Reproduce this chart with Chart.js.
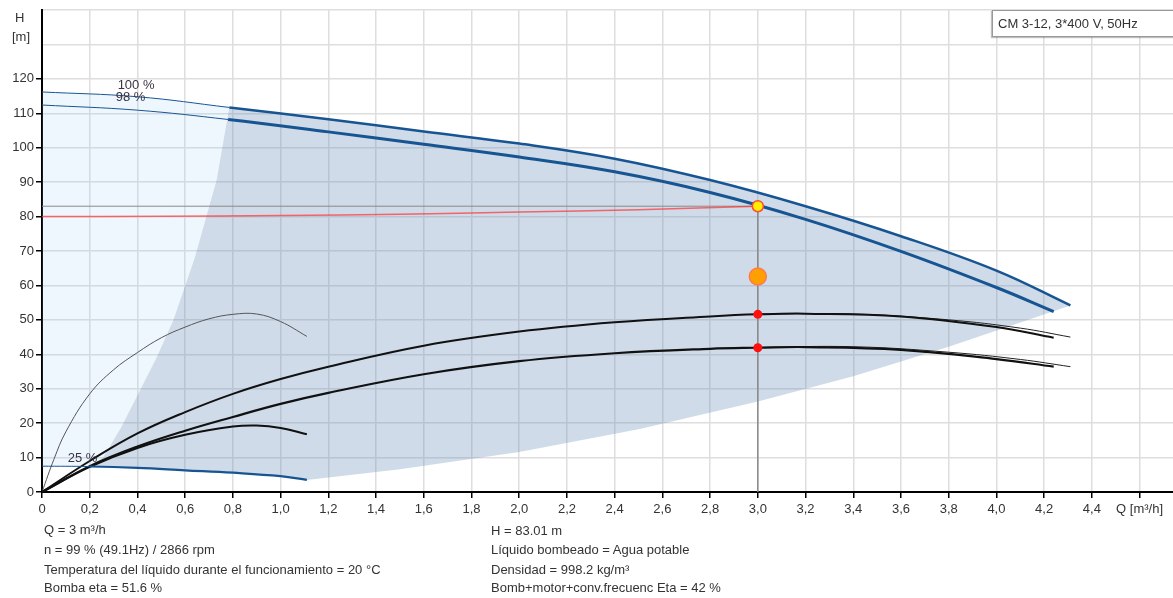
<!DOCTYPE html>
<html>
<head>
<meta charset="utf-8">
<title>CM 3-12 curva</title>
<script src="https://cdn.jsdelivr.net/npm/chart.js@4.4.1/dist/chart.umd.min.js"></script>
<style>
body { margin: 0; background: #fff; font-family: "Liberation Sans", Arial, sans-serif; color: #333; }
#wrap { position: relative; width: 1173px; height: 598px; overflow: hidden; }
#chart { position: absolute; left: 0; top: 0; }
.t { position: absolute; font-size: 13px; line-height: 16px; white-space: nowrap; }
#legend { position: absolute; left: 992px; top: 10px; width: 190px; height: 25px; line-height: 25px;
          border: 1px solid #999; background: #fff; padding-left: 5px; font-size: 13px;
          box-shadow: -1px 1px 1px rgba(0,0,0,0.25); }
</style>
</head>
<body>
<div id="wrap">
  <canvas id="chart" width="1173" height="598"></canvas>
  <div class="t" style="left:15px;top:10px;">H</div>
  <div class="t" style="left:12px;top:29px;">[m]</div>
  <div id="legend">CM 3-12, 3*400 V, 50Hz</div>
  <div class="t" style="left:44px;top:522px;">Q = 3 m³/h</div>
  <div class="t" style="left:44px;top:542px;">n = 99 % (49.1Hz) / 2866 rpm</div>
  <div class="t" style="left:44px;top:562px;">Temperatura del líquido durante el funcionamiento = 20 °C</div>
  <div class="t" style="left:44px;top:580px;">Bomba eta = 51.6 %</div>
  <div class="t" style="left:491px;top:523px;">H = 83.01 m</div>
  <div class="t" style="left:491px;top:542px;">Líquido bombeado = Agua potable</div>
  <div class="t" style="left:491px;top:562px;">Densidad = 998.2 kg/m³</div>
  <div class="t" style="left:491px;top:580px;">Bomb+motor+conv.frecuenc Eta = 42 %</div>
</div>
<script>
// ---- datos ----
const xTickLabels = ['0', '0,2', '0,4', '0,6', '0,8', '1,0', '1,2', '1,4', '1,6', '1,8', '2,0', '2,2',
                     '2,4', '2,6', '2,8', '3,0', '3,2', '3,4', '3,6', '3,8', '4,0', '4,2', '4,4', 'Q [m³/h]'];
const yTickLabels = ['0', '10', '20', '30', '40', '50', '60', '70', '80', '90', '100', '110', '120', '', ''];

// curvas H-Q (velocidad 100 %, 98 %, 25 %)
const q100 = [0, 0.4, 0.785, 1.2, 1.6, 2.0, 2.4, 2.8, 3.2, 3.6, 4.0, 4.31];
const h100 = [116.2, 114.8, 111.7, 108.3, 104.7, 101.2, 96.8, 90.6, 83.0, 74.3, 64.3, 54.2];
const q98 = [0, 0.4, 0.78, 1.2, 1.6, 2.0, 2.4, 2.8, 3.2, 3.6, 4.0, 4.24];
const h98 = [112.4, 110.9, 108.2, 104.6, 101.0, 97.3, 93.0, 87.0, 79.2, 69.9, 59.4, 52.4];
const q25 = [0, 0.2, 0.4, 0.6, 0.8, 1.0, 1.11];
const h25 = [7.5, 7.4, 7.0, 6.3, 5.6, 4.6, 3.5];

// bordes de la zona de trabajo
const qLeftEdge = [0.2, 0.256, 0.33, 0.41, 0.48, 0.55, 0.64, 0.732, 0.785];
const hLeftEdge = [7.4, 10.0, 18.5, 29.4, 39.0, 49.8, 68.0, 90.6, 111.7];
const qLowEdge = [1.11, 1.5, 2.0, 2.5, 3.0, 3.4, 3.8, 4.1, 4.31];
const hLowEdge = [3.5, 6.6, 11.6, 18.2, 26.3, 33.6, 42.2, 49.2, 54.2];

// curvas de rendimiento (negro)
const qEta = [0, 0.2, 0.4, 0.6, 0.8, 1.0, 1.2, 1.6, 2.0, 2.4, 2.8, 3.0, 3.2, 3.6, 4.0, 4.24];
const hEtaPump = [0, 9.0, 17.0, 23.2, 28.5, 32.8, 36.4, 42.5, 46.6, 49.3, 51.0, 51.6, 51.8, 51.0, 47.9, 44.8];
const hEtaTotal = [0, 7.5, 13.2, 17.8, 21.8, 25.6, 28.8, 34.2, 38.0, 40.3, 41.6, 41.9, 42.1, 41.3, 38.6, 36.4];
const qEtaEnd = [3.0, 3.4, 3.8, 4.1, 4.31];
const hEtaPumpEnd = [51.7, 51.7, 50.0, 47.6, 45.0];
const hEtaTotalEnd = [42.0, 42.2, 40.6, 38.5, 36.4];
const qEtaSmall = [0, 0.2, 0.4, 0.6, 0.8, 0.9, 1.0, 1.11];
const hEtaSmall = [0, 7.3, 12.8, 16.6, 19.0, 19.3, 18.6, 16.8];
const qEtaThin = [0, 0.05, 0.1, 0.2, 0.3, 0.4, 0.5, 0.6, 0.7, 0.8, 0.9, 1.0, 1.11];
const hEtaThin = [0, 9.5, 17.5, 28.5, 35.5, 40.5, 44.8, 47.9, 50.3, 51.6, 51.7, 49.5, 45.2];

// curva de la instalacion
const qSys = [0, 0.5, 1.0, 1.5, 2.0, 2.5, 3.0];
const hSys = [80.0, 80.1, 80.3, 80.7, 81.3, 82.0, 83.0];

// punto de trabajo
const opQ = 3.0;
const opH = 83.01;
const markerH = [83.01, 62.6, 51.6, 41.9];

// etiquetas de velocidad
const speedLabels = ['100 %', '98 %', '25 %'];
const speedLabelQ = [0.317, 0.309, 0.108];
const speedLabelH = [118.0, 114.5, 9.7];

// ---- construccion ----
function pts(qs, hs) {
    return qs.map((q, i) => ({ x: q, y: hs[i] }));
}

const up100 = pts(q100, h100);
const lowCurve = pts(q25, h25);
const leftEdge = pts(qLeftEdge, hLeftEdge);
const lowEdge = pts(qLowEdge, hLowEdge);

// zona oscura: borde izq. + 100 % + borde inferior + 25 %
const darkShape = []
    .concat(leftEdge.slice(0, -1))
    .concat(up100.filter(p => p.x >= 0.785))
    .concat(lowEdge.slice().reverse().slice(1))
    .concat(lowCurve.filter(p => p.x >= 0.2).reverse());

// zona clara: 100 % hasta el borde izq. y 25 % al inicio
const lightShape = []
    .concat(up100.filter(p => p.x <= 0.785))
    .concat(leftEdge.slice().reverse().slice(1))
    .concat(lowCurve.filter(p => p.x < 0.2).reverse());

const BLUE = '#175592';

function curve(data, color, width, order, extra) {
    return Object.assign({
        data: data,
        borderColor: color,
        borderWidth: width,
        pointRadius: 0,
        pointHoverRadius: 0,
        fill: false,
        tension: 0.4,
        order: order
    }, extra || {});
}

function thinBefore(limit, thick) {
    return { borderWidth: ctx => ctx.p0.parsed.x < limit - 0.001 ? 1 : thick };
}

const labelPlugin = {
    id: 'speedLabels',
    afterDatasetsDraw(chart) {
        const ctx = chart.ctx;
        const xs = chart.scales.x, ys = chart.scales.y;
        ctx.save();
        ctx.font = '13px "Liberation Sans", Arial, sans-serif';
        ctx.fillStyle = '#3a3344';
        ctx.textAlign = 'left';
        ctx.textBaseline = 'middle';
        speedLabels.forEach((t, i) => {
            ctx.fillText(t, xs.getPixelForValue(speedLabelQ[i]), ys.getPixelForValue(speedLabelH[i]));
        });
        ctx.restore();
    }
};

const tickFont = { family: 'Liberation Sans', size: 13 };

new Chart(document.getElementById('chart'), {
    type: 'line',
    data: {
        datasets: [
            // marcadores del punto de trabajo
            {
                data: markerH.map(h => ({ x: opQ, y: h })),
                showLine: false,
                pointRadius: [5.5, 8.5, 4.5, 4.5],
                pointBorderWidth: [1.5, 1.5, 0, 0],
                pointBackgroundColor: ['#ffee00', '#ffa000', '#ff1010', '#ff1010'],
                pointBorderColor: ['#ff4a3a', '#ff7a50', '#ff1010', '#ff1010'],
                order: 0
            },
            curve(pts(qSys, hSys), 'rgba(255,50,50,0.7)', 1.5, 1),
            curve([{ x: 0, y: opH }, { x: opQ, y: opH }], '#8a8a8a', 1, 2, { tension: 0 }),
            curve([{ x: opQ, y: 0 }, { x: opQ, y: opH }], '#888', 1.5, 2, { tension: 0 }),
            curve(up100, BLUE, 2.5, 3, { segment: thinBefore(0.785, 2.5) }),
            curve(pts(q98, h98), BLUE, 3, 3, { segment: thinBefore(0.78, 3) }),
            curve(lowCurve, BLUE, 2.2, 3, { segment: thinBefore(0.2, 2.2) }),
            curve(pts(qEta, hEtaPump), '#111', 2, 4),
            curve(pts(qEta, hEtaTotal), '#111', 2.2, 4),
            curve(pts(qEtaEnd, hEtaPumpEnd), '#222', 1, 5),
            curve(pts(qEtaEnd, hEtaTotalEnd), '#222', 1, 5),
            curve(pts(qEtaSmall, hEtaSmall), '#111', 2, 4),
            curve(pts(qEtaThin, hEtaThin), '#555', 1, 4),
            // zonas sombreadas
            {
                data: darkShape,
                borderWidth: 0,
                borderColor: 'rgba(0,0,0,0)',
                backgroundColor: 'rgba(100,140,185,0.31)',
                fill: 'shape',
                tension: 0,
                pointRadius: 0,
                pointHoverRadius: 0,
                order: 8
            },
            {
                data: lightShape,
                borderWidth: 0,
                borderColor: 'rgba(0,0,0,0)',
                backgroundColor: 'rgba(150,200,250,0.15)',
                fill: 'shape',
                tension: 0,
                pointRadius: 0,
                pointHoverRadius: 0,
                order: 9
            }
        ]
    },
    options: {
        responsive: false,
        animation: false,
        devicePixelRatio: 1,
        layout: { autoPadding: false, padding: { top: 10, right: 0, left: 0, bottom: 0 } },
        plugins: { legend: { display: false }, tooltip: { enabled: false } },
        events: [],
        scales: {
            x: {
                type: 'linear',
                min: 0,
                max: 4.74,
                afterFit: s => { s.height = 106; },
                border: { color: '#000', width: 2 },
                grid: { color: '#dedede', lineWidth: 1.5, tickColor: '#000', tickLength: 6, tickWidth: 1.5 },
                ticks: {
                    stepSize: 0.2,
                    includeBounds: false,
                    autoSkip: false,
                    maxRotation: 0,
                    padding: 4,
                    color: '#333',
                    font: tickFont,
                    callback: (v, i) => xTickLabels[i]
                }
            },
            y: {
                min: 0,
                max: 140,
                afterFit: s => { s.width = 42; },
                border: { color: '#000', width: 2 },
                grid: {
                    color: '#dedede', lineWidth: 1.5, tickLength: 6, tickWidth: 1.5,
                    tickColor: ctx => (yTickLabels[ctx.index] ? '#000' : 'rgba(0,0,0,0)')
                },
                ticks: {
                    stepSize: 10,
                    padding: 2,
                    color: '#333',
                    font: tickFont,
                    callback: (v, i) => yTickLabels[i]
                }
            }
        }
    },
    plugins: [labelPlugin]
});
</script>
</body>
</html>
